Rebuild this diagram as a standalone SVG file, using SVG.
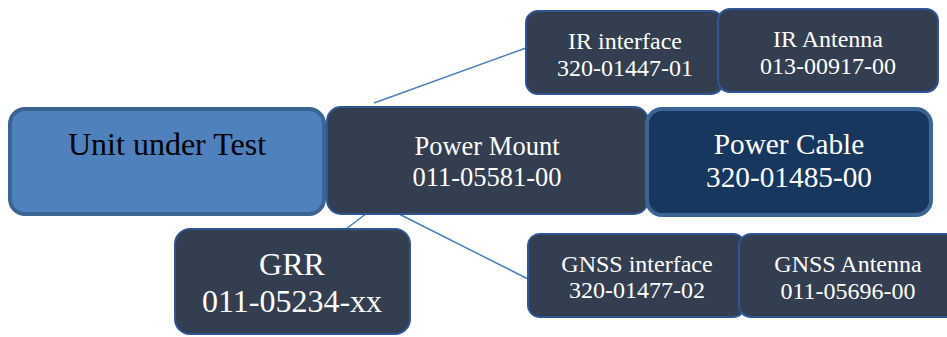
<svg xmlns="http://www.w3.org/2000/svg" width="947" height="337" viewBox="0 0 947 337">
<style>
.dark{fill:#333e50;stroke:#2f5597;stroke-width:2}
.uut{fill:#4f81bd;stroke:#3a6491;stroke-width:4}
.cable{fill:#17375e;stroke:#3b6594;stroke-width:4}
.conn{stroke:#4a7ebb;stroke-width:1.5;fill:none}
text{font-family:"Liberation Serif","Times New Roman",serif;text-anchor:middle}
.w{fill:#ffffff}
.b{fill:#000000}
</style>
<rect width="947" height="337" fill="#ffffff"/>
<g id="connectors">
<line class="conn" x1="374" y1="103" x2="526" y2="48"/>
<line class="conn" x1="367" y1="213" x2="346" y2="229"/>
<line class="conn" x1="397" y1="213" x2="528" y2="279"/>
</g>
<g id="node-uut">
<rect class="uut" x="10" y="109" width="314" height="105" rx="15"/>
<text class="b" x="167" y="155" font-size="32">Unit under Test</text>
</g>
<g id="node-power-mount">
<rect class="dark" x="327" y="107" width="321" height="107" rx="14"/>
<text class="w" x="487" y="155" font-size="26.5">Power Mount</text>
<text class="w" x="487" y="186" font-size="26.5">011-05581-00</text>
</g>
<g id="node-power-cable">
<rect class="cable" x="647" y="109" width="284" height="106" rx="15"/>
<text class="w" x="789" y="154" font-size="29.3">Power Cable</text>
<text class="w" x="789" y="187" font-size="29.3">320-01485-00</text>
</g>
<g id="node-ir-interface">
<rect class="dark" x="526" y="11" width="197" height="83" rx="12"/>
<text class="w" x="625" y="49" font-size="24">IR interface</text>
<text class="w" x="625" y="76" font-size="24">320-01447-01</text>
</g>
<g id="node-ir-antenna">
<rect class="dark" x="718" y="9" width="220" height="83" rx="12"/>
<text class="w" x="828" y="47" font-size="24">IR Antenna</text>
<text class="w" x="828" y="74" font-size="24">013-00917-00</text>
</g>
<g id="node-gnss-interface">
<rect class="dark" x="528" y="234" width="217" height="83" rx="12"/>
<text class="w" x="637" y="272" font-size="24">GNSS interface</text>
<text class="w" x="637" y="298" font-size="24">320-01477-02</text>
</g>
<g id="node-gnss-antenna">
<rect class="dark" x="739" y="234" width="219" height="83" rx="12"/>
<text class="w" x="848" y="272" font-size="24">GNSS Antenna</text>
<text class="w" x="848" y="299" font-size="24">011-05696-00</text>
</g>
<g id="node-grr">
<rect class="dark" x="175" y="229" width="235" height="105" rx="15"/>
<text class="w" x="292" y="275" font-size="32">GRR</text>
<text class="w" x="292" y="312" font-size="32">011-05234-xx</text>
</g>
</svg>
